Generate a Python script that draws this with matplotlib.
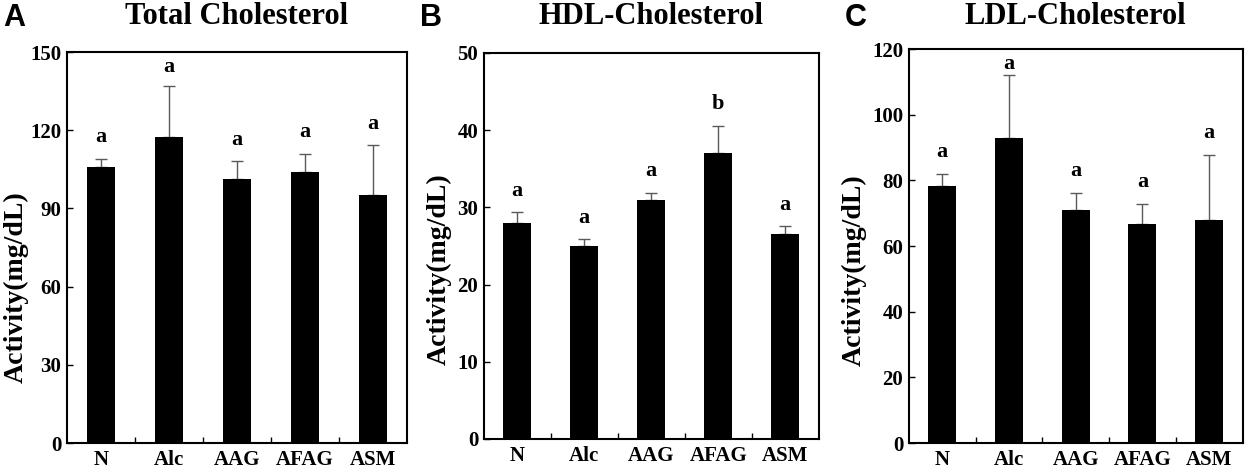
import numpy as np
import matplotlib.pyplot as plt
from matplotlib.ticker import FixedLocator

groups = ['N', 'Alc', 'AAG', 'AFAG', 'ASM']

tc_mean = [105.9, 117.4, 101.4, 104.0, 95.3]
tc_err = [3.2, 19.4, 6.7, 7.0, 18.9]
tc_sig = ['a', 'a', 'a', 'a', 'a']

hdl_mean = [28.0, 25.0, 30.9, 37.0, 26.6]
hdl_err = [1.4, 0.9, 1.0, 3.6, 1.0]
hdl_sig = ['a', 'a', 'a', 'b', 'a']

ldl_mean = [78.2, 92.9, 70.9, 66.8, 68.0]
ldl_err = [3.7, 19.1, 5.2, 6.1, 19.8]
ldl_sig = ['a', 'a', 'a', 'a', 'a']

serif = 'Liberation Serif'
sans = 'Liberation Sans'

fig = plt.figure(figsize=(12.5, 4.71), dpi=100)

# letter, title, data, ymax, step, axes rect, ylabel (x, y) in axes coords
panels = [
    ('A', 'Total Cholesterol', tc_mean, tc_err, tc_sig, 150, 30,
     [0.0536, 0.0594, 0.272, 0.830], (-0.113, 0.40)),
    ('B', 'HDL-Cholesterol', hdl_mean, hdl_err, hdl_sig, 50, 10,
     [0.387, 0.068, 0.268, 0.8195], (-0.095, 0.44)),
    ('C', 'LDL-Cholesterol', ldl_mean, ldl_err, ldl_sig, 120, 20,
     [0.727, 0.0594, 0.267, 0.8365], (-0.126, 0.44)),
]

for letter, title, mean, err, sig, ymax, step, pos, lab_xy in panels:
    ax = fig.add_axes(pos)
    x = np.arange(len(groups))
    ax.bar(x, mean, width=0.42, color='black', zorder=2)
    ax.errorbar(x, mean, yerr=[np.zeros(len(err)), err], fmt='none',
                ecolor='#5a5a5a', elinewidth=1, capsize=4, capthick=1, zorder=1)
    off = ymax * 0.055
    for xi, m, e, s in zip(x, mean, err, sig):
        ty = min(m + e + off, ymax * 0.963)
        ax.text(xi, ty, s, ha='center', va='center',
                fontsize=16, fontweight='bold', family=serif)
    ax.set_xlim(-0.5, 4.5)
    ax.set_ylim(0, ymax)
    ax.set_yticks(np.arange(0, ymax + 1, step))
    ax.set_xticks(x)
    ax.set_xticklabels(groups)
    ax.xaxis.set_minor_locator(FixedLocator([0.5, 1.5, 2.5, 3.5]))
    ax.tick_params(axis='x', which='major', length=0, pad=5)
    ax.tick_params(axis='x', which='minor', direction='in', length=4, width=1)
    ax.tick_params(axis='y', direction='in', length=4, width=1, pad=4)
    for lab in ax.get_xticklabels() + ax.get_yticklabels():
        lab.set_fontfamily(serif)
        lab.set_fontweight('bold')
        lab.set_fontsize(15)
    for sp in ax.spines.values():
        sp.set_linewidth(1.5)
    ax.set_ylabel('Activity(mg/dL)', family=serif, fontweight='bold', fontsize=20)
    ax.yaxis.set_label_coords(*lab_xy)
    cx = pos[0] + pos[2] / 2
    fig.text(cx, 0.966, title, family=serif, fontweight='bold', fontsize=22,
             ha='center', va='center')
    fig.text(pos[0] - 0.051, 0.962, letter, family=sans, fontweight='bold',
             fontsize=22, ha='left', va='center')

plt.savefig('out.png', dpi=100)
